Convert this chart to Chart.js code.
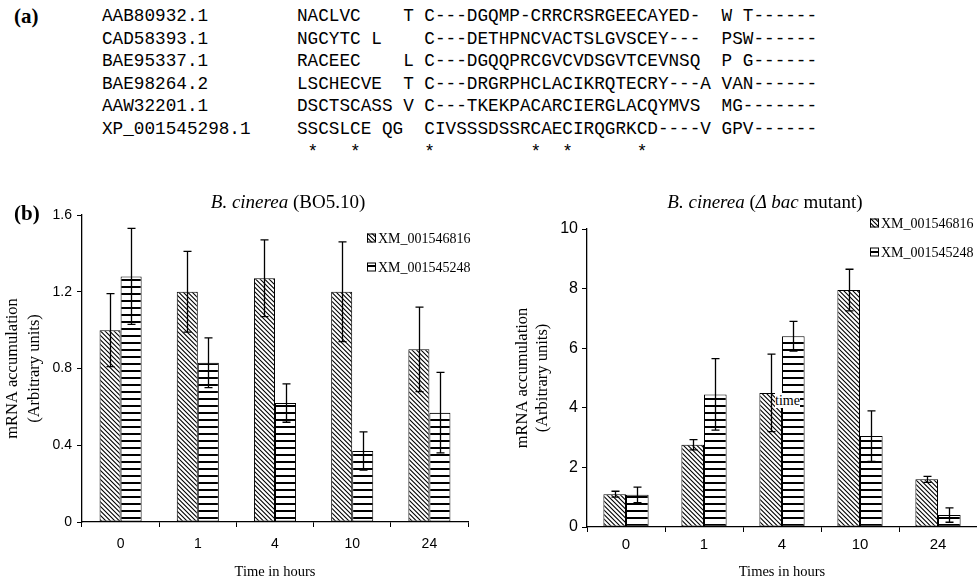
<!DOCTYPE html>
<html><head><meta charset="utf-8">
<script src="https://cdn.jsdelivr.net/npm/chart.js@4.4.1/dist/chart.umd.min.js"></script>
<style>
html,body{margin:0;padding:0;background:#fff;}
#wrap{position:relative;width:977px;height:583px;overflow:hidden;background:#fff;}
.t{position:absolute;white-space:pre;color:#000;}
.mono{font-family:"Liberation Mono",monospace;font-size:17.7px;line-height:22.5px;}
.ser{font-family:"Liberation Serif","Times New Roman",serif;}
canvas{position:absolute;}
.title{font-size:19px;line-height:22px;transform:translateX(-50%);}
</style></head><body>
<div id="wrap">
 <canvas id="c1" width="490" height="393" style="left:0;top:190px"></canvas>
 <canvas id="c2" width="477" height="393" style="left:500px;top:190px"></canvas>
 <div class="t ser" style="left:14px;top:4px;font-size:21px;font-weight:bold">(a)</div>
 <div id="seqNames" class="t mono" style="left:102px;top:5px"></div>
 <div id="seqs" class="t mono" style="left:297px;top:5px"></div>
 <div id="marks" class="t mono" style="left:297px;top:141px"></div>
 <div class="t ser" style="left:14px;top:201px;font-size:21px;font-weight:bold">(b)</div>
 <div class="t ser title" style="left:288px;top:191px"><i>B. cinerea</i> (BO5.10)</div>
 <div class="t ser title" style="left:765px;top:191px"><i>B. cinerea</i> (<i>Δ bac</i> mutant)</div>
 <div class="t ser" style="left:775px;top:393px;font-size:14px;line-height:15px;background:#fff;">time</div>
</div>
<script>
// ---- panel (a): alignment text ----
const seqIds = ['AAB80932.1','CAD58393.1','BAE95337.1','BAE98264.2','AAW32201.1','XP_001545298.1'];
const seqAligned = [
  'NACLVC    T C---DGQMP-CRRCRSRGEECAYED-  W T------',
  'NGCYTC L    C---DETHPNCVACTSLGVSCEY---  PSW------',
  'RACEEC    L C---DGQQPRCGVCVDSGVTCEVNSQ  P G------',
  'LSCHECVE  T C---DRGRPHCLACIKRQTECRY---A VAN------',
  'DSCTSCASS V C---TKEKPACARCIERGLACQYMVS  MG-------',
  'SSCSLCE QG  CIVSSSDSSRCAECIRQGRKCD----V GPV------'
];
const conservedMarks = ' *   *      *         *  *      *';

// ---- panel (b): qRT-PCR data ----
const timeLabels = ['0','1','4','10','24'];
const seriesNames = ['XM_001546816','XM_001545248'];
const wtTitleX = 'Time in hours';
const mutTitleX = 'Times in hours';
const yTitleLines = ['mRNA accumulation','(Arbitrary units)'];
// B. cinerea (BO5.10)
const wtValues1 = [1.00, 1.20, 1.27, 1.20, 0.90];
const wtErrors1 = [0.19, 0.21, 0.20, 0.26, 0.22];
const wtValues2 = [1.28, 0.83, 0.62, 0.37, 0.57];
const wtErrors2 = [0.25, 0.13, 0.10, 0.10, 0.21];
const wtTicks = {max:1.6, step:0.4};
// B. cinerea (delta bac mutant)
const mutValues1 = [1.10, 2.76, 4.50, 7.95, 1.60];
const mutErrors1 = [0.10, 0.17, 1.30, 0.70, 0.10];
const mutValues2 = [1.08, 4.45, 6.40, 3.05, 0.40];
const mutErrors2 = [0.26, 1.20, 0.50, 0.85, 0.24];
const mutTicks = {max:10, step:2};

document.getElementById('seqNames').textContent = seqIds.join('\n');
document.getElementById('seqs').textContent = seqAligned.join('\n');
document.getElementById('marks').textContent = conservedMarks;

function diagPattern(ctx){
  const s=9, c=document.createElement('canvas'); c.width=s; c.height=s;
  const g=c.getContext('2d'); g.fillStyle='#fff'; g.fillRect(0,0,s,s);
  g.strokeStyle='#000'; g.lineWidth=1.1;
  g.beginPath();
  [-9,-4.5,0,4.5,9].forEach(k=>{ g.moveTo(-2,-2+k); g.lineTo(s+2,s+2+k); });
  g.stroke();
  return ctx.createPattern(c,'repeat');
}
function horizPattern(ctx){
  const h=7, c=document.createElement('canvas'); c.width=4; c.height=h;
  const g=c.getContext('2d'); g.fillStyle='#fff'; g.fillRect(0,0,4,h);
  g.fillStyle='#000'; g.fillRect(0,h-2,4,2);
  return ctx.createPattern(c,'repeat');
}

const errorBars = {
  id:'errorBars',
  afterDatasetsDraw(chart){
    const ctx=chart.ctx, ys=chart.scales.y;
    ctx.save(); ctx.strokeStyle='#000'; ctx.lineWidth=1.3;
    chart.data.datasets.forEach((ds,i)=>{
      const meta=chart.getDatasetMeta(i);
      meta.data.forEach((bar,j)=>{
        const v=ds.data[j], e=ds.errors[j];
        const x=Math.round(bar.x)+0.5;
        const t=ys.getPixelForValue(v+e), b=ys.getPixelForValue(v-e);
        ctx.beginPath();
        ctx.moveTo(x,t); ctx.lineTo(x,b);
        ctx.moveTo(x-4,t); ctx.lineTo(x+4,t);
        ctx.moveTo(x-4,b); ctx.lineTo(x+4,b);
        ctx.stroke();
      });
    });
    ctx.restore();
  }
};
const patternLegend = {
  id:'patternLegend',
  afterDraw(chart, args, o){
    if(!o || o.x===undefined) return;
    const ctx=chart.ctx; ctx.save();
    ctx.font=o.font; ctx.textBaseline='middle';
    chart.data.datasets.forEach((ds,i)=>{
      const y=o.y+i*o.gap;
      ctx.fillStyle=ds.backgroundColor; ctx.fillRect(o.x, y-o.box/2, o.box, o.box);
      ctx.strokeStyle='#000'; ctx.lineWidth=1;
      ctx.strokeRect(o.x+0.5, y-o.box/2+0.5, o.box-1, o.box-1);
      ctx.fillStyle='#000'; ctx.fillText(ds.label, o.x+o.box+2, y+1);
    });
    ctx.restore();
  }
};

function buildChart(id, cfg){
  const canvas=document.getElementById(id); const ctx=canvas.getContext('2d');
  return new Chart(ctx,{
    type:'bar',
    data:{labels:timeLabels, datasets:[
      {label:seriesNames[0], data:cfg.v1, errors:cfg.e1, backgroundColor:diagPattern(ctx), borderColor:'#000', borderWidth:1, borderSkipped:false},
      {label:seriesNames[1], data:cfg.v2, errors:cfg.e2, backgroundColor:horizPattern(ctx), borderColor:'#000', borderWidth:1, borderSkipped:false}
    ]},
    options:{
      responsive:false, animation:false, devicePixelRatio:1,
      layout:{padding:{left:0, top:cfg.top, right:cfg.right, bottom:0}},
      datasets:{bar:{categoryPercentage:cfg.catPct, barPercentage:1}},
      plugins:{legend:{display:false}, tooltip:{enabled:false}, patternLegend:cfg.legend},
      scales:{
        x:{
          grid:{display:true, drawOnChartArea:false, drawTicks:true, tickLength:5, color:'#000', offset:true},
          border:{display:true, color:'#000', width:1.3},
          ticks:{color:'#000', font:{family:'Liberation Sans', size:cfg.xTickSize}, padding:cfg.xPad, maxRotation:0},
          title:{display:true, text:cfg.xTitle, color:'#000', font:{family:'Liberation Serif', size:14.5}, padding:{top:0,bottom:2}},
          afterFit(s){ s.height=cfg.bottomSpace; }
        },
        y:{
          min:0, max:cfg.ticks.max,
          ticks:{stepSize:cfg.ticks.step, color:'#000', font:{family:'Liberation Sans', size:cfg.yTickSize}, padding:cfg.yPad},
          grid:{display:true, drawOnChartArea:false, tickLength:5, color:'#000'},
          border:{display:true, color:'#000', width:1.3},
          title:{display:true, text:yTitleLines, color:'#000', font:{family:'Liberation Serif', size:16.5, lineHeight:cfg.yTitleLH}, padding:{top:cfg.yTitlePad, bottom:0}},
          afterFit(s){ s.width=cfg.leftSpace; }
        }
      }
    },
    plugins:[errorBars, patternLegend]
  });
}

buildChart('c1', {
  v1:wtValues1, e1:wtErrors1, v2:wtValues2, e2:wtErrors2, ticks:wtTicks,
  top:25, right:22, leftSpace:82, bottomSpace:61, catPct:0.545,
  xTickSize:14, yTickSize:14, xPad:9, yPad:5, xTitle:wtTitleX,
  yTitleLH:1.333, yTitlePad:2,
  legend:{x:367, y:48, gap:29, box:9, font:'14px "Liberation Serif"'}
});
buildChart('c2', {
  v1:mutValues1, e1:mutErrors1, v2:mutValues2, e2:mutErrors2, ticks:mutTicks,
  top:39, right:0, leftSpace:87, bottomSpace:56, catPct:0.58,
  xTickSize:15, yTickSize:16, xPad:4, yPad:4, xTitle:mutTitleX,
  yTitleLH:1.21, yTitlePad:13,
  legend:{x:370, y:33, gap:29, box:9, font:'14px "Liberation Serif"'}
});
</script>
</body></html>
